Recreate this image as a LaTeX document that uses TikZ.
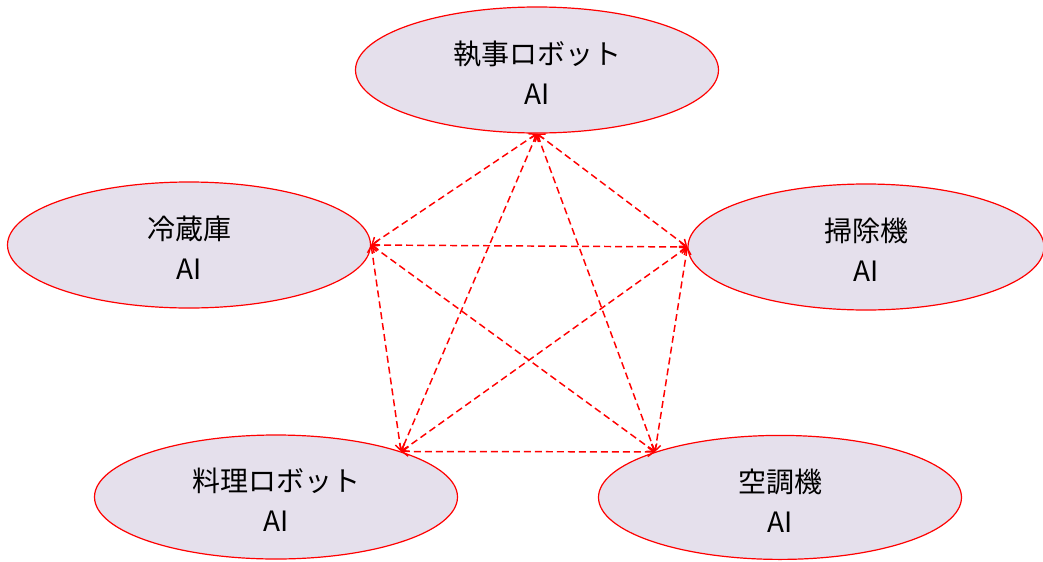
\documentclass[tikz,border=0pt]{standalone}
\usepackage{fontspec}
\setmainfont{Noto Sans CJK JP}
\usetikzlibrary{shapes.geometric,arrows.meta}

\definecolor{aifill}{RGB}{229,224,236}
\definecolor{aired}{RGB}{255,0,0}

\tikzset{every picture/.style={line width=0.75pt}}
\tikzset{
	aibox/.style={ellipse, draw=aired, fill=aifill, line width=0.9pt, minimum width=272.25pt, minimum height=94.5pt, inner sep=0pt, align=center, text height=52pt, font=\fontsize{21}{30}\selectfont},
	ailink/.style={color=aired, line width=1.1pt, dash pattern=on 5.25pt off 3pt, {Straight Barb[length=4.5pt,width=7pt]}-{Straight Barb[length=4.5pt,width=7pt]}}
}

\begin{document}
\begin{tikzpicture}[x=0.75pt,y=0.75pt,yscale=-1,xscale=1]
	\useasboundingbox (0,0) rectangle (1043,561);

	% Text Node
	\node [aibox] (butler) at (537,70) {執事ロボット\\AI};
	% Text Node
	\node [aibox] (fridge) at (189,245) {冷蔵庫\\AI};
	% Text Node
	\node [aibox, minimum width=267pt] (cleaner) at (866,247) {掃除機\\AI};
	% Text Node
	\node [aibox, minimum height=93pt] (cook) at (276,497) {料理ロボット\\AI};
	% Text Node
	\node [aibox, minimum height=93pt] (aircon) at (780,497.4) {空調機\\AI};

	%Straight Lines
	\draw [ailink] (butler.south) -- (fridge.east);
	\draw [ailink] (butler.south) -- (cleaner.west);
	\draw [ailink] (butler.south) -- (cook.20);
	\draw [ailink] (butler.south) -- (aircon.160);
	%Straight Lines
	\draw [ailink] (fridge.east) -- (cleaner.west);
	\draw [ailink] (fridge.east) -- (cook.20);
	\draw [ailink] (fridge.east) -- (aircon.160);
	%Straight Lines
	\draw [ailink] (cleaner.west) -- (cook.20);
	\draw [ailink] (cleaner.west) -- (aircon.160);
	%Straight Lines
	\draw [ailink] (cook.20) -- (aircon.160);

\end{tikzpicture}
\end{document}
